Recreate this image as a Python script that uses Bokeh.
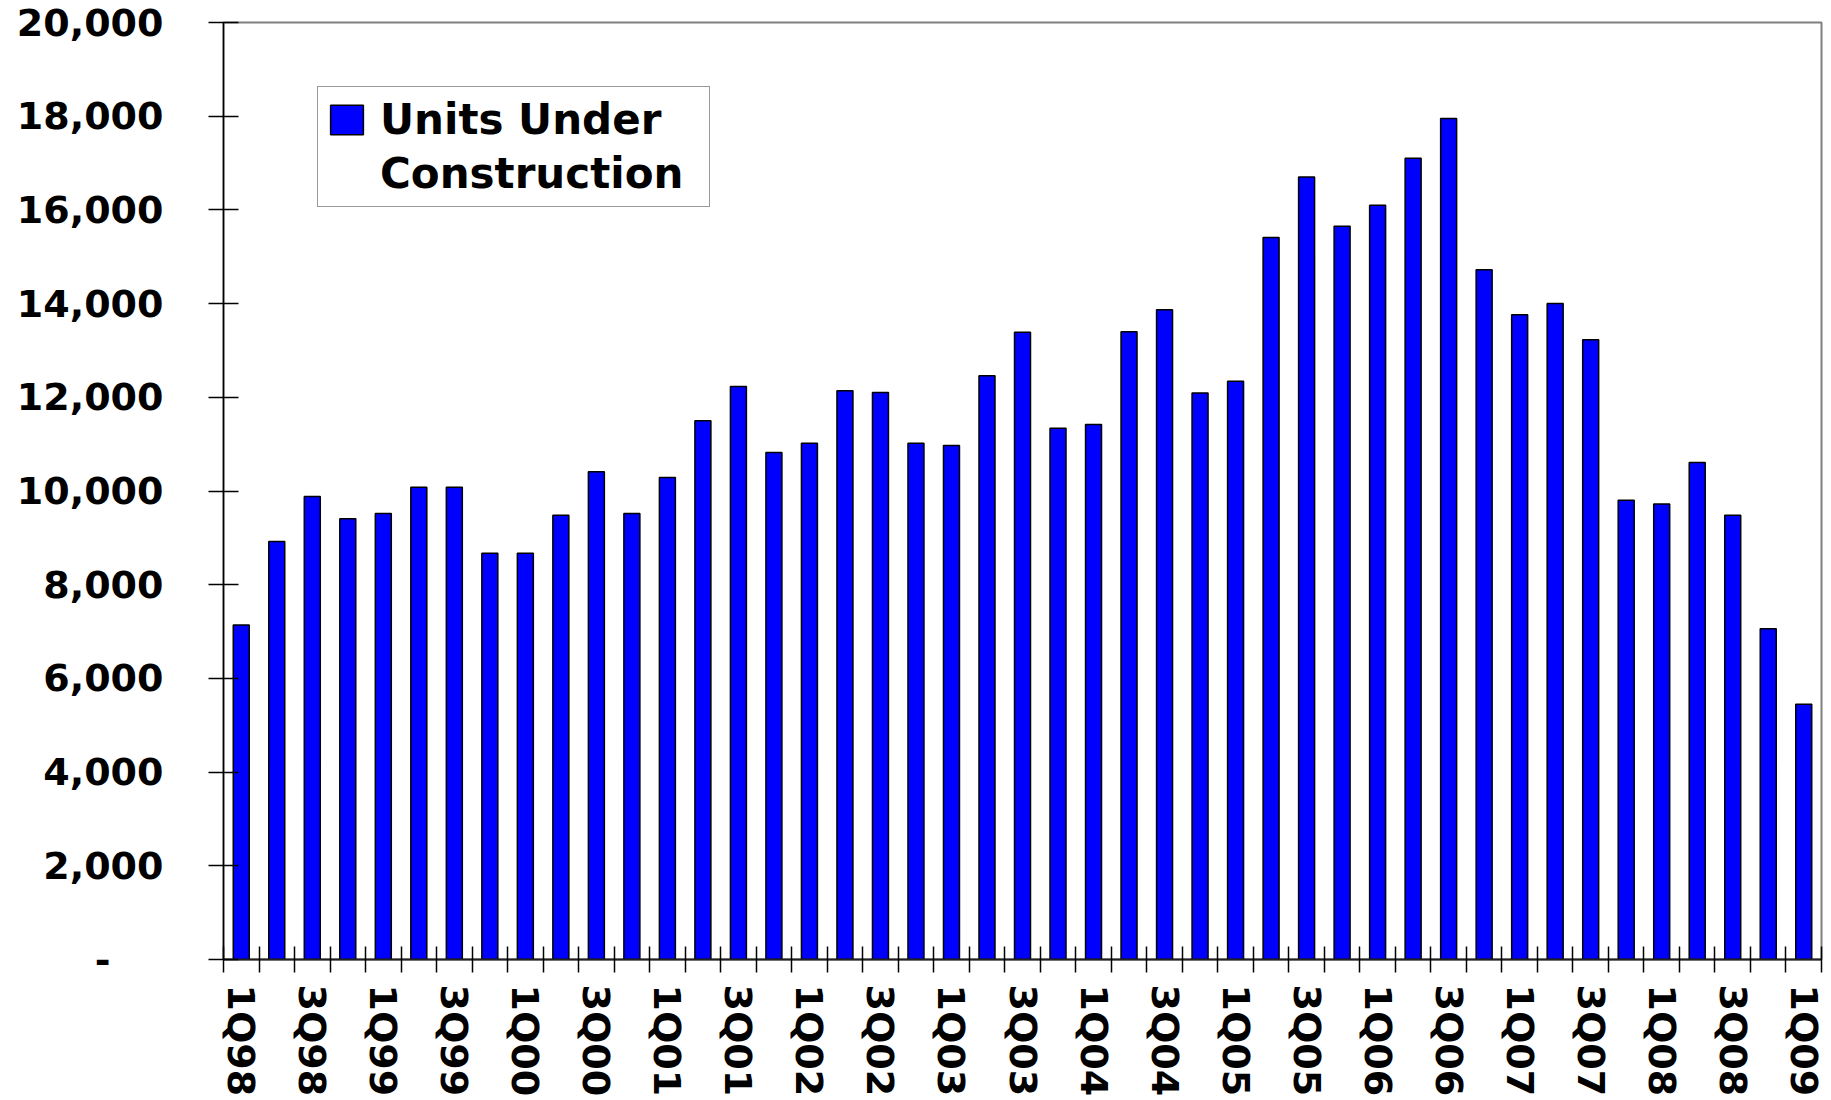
import math
from bokeh.plotting import figure
from bokeh.models import (Range1d, FixedTicker, NumeralTickFormatter, Legend, LegendItem,
                          ColumnDataSource)
from bokeh.embed import file_html
from bokeh.resources import INLINE

quarters = ["1Q98", "2Q98", "3Q98", "4Q98",
            "1Q99", "2Q99", "3Q99", "4Q99",
            "1Q00", "2Q00", "3Q00", "4Q00",
            "1Q01", "2Q01", "3Q01", "4Q01",
            "1Q02", "2Q02", "3Q02", "4Q02",
            "1Q03", "2Q03", "3Q03", "4Q03",
            "1Q04", "2Q04", "3Q04", "4Q04",
            "1Q05", "2Q05", "3Q05", "4Q05",
            "1Q06", "2Q06", "3Q06", "4Q06",
            "1Q07", "2Q07", "3Q07", "4Q07",
            "1Q08", "2Q08", "3Q08", "4Q08",
            "1Q09"]
units = [7140, 8920, 9880, 9410,
         9520, 10080, 10080, 8670,
         8670, 9480, 10410, 9520,
         10290, 11500, 12230, 10820,
         11020, 12140, 12100, 11020,
         10970, 12460, 13390, 11340,
         11420, 13400, 13870, 12090,
         12340, 15410, 16700, 15650,
         16100, 17100, 17950, 14720,
         13760, 14000, 13230, 9800,
         9720, 10610, 9480, 7060,
         5450]
y_ticks = [0, 2000, 4000, 6000, 8000, 10000, 12000, 14000, 16000, 18000, 20000]
series_name = ["Units Under", "Construction"]

FONT = "DejaVu Sans"
n = len(quarters)
centers = list(range(n))
bounds = [i - 0.5 for i in range(n + 1)]

p = figure(width=1826, height=1100, output_backend="svg", toolbar_location=None,
           x_range=Range1d(-0.5, n - 0.5), y_range=Range1d(0, 20000),
           min_border_left=223, min_border_right=5, min_border_top=22,
           min_border_bottom=141)
p.background_fill_color = "white"
p.border_fill_color = "white"
p.outline_line_color = "#808080"
p.outline_line_width = 2
p.grid.visible = False

src = ColumnDataSource(dict(x=centers, top=units))
bars = p.vbar(x="x", top="top", width=0.45, source=src,
              fill_color="#0000FF", line_color="black", line_width=1.5)
dummy = p.vbar(x=[], top=[], width=0.45, fill_alpha=0, line_alpha=0)

# y axis
ya = p.yaxis[0]
ya.ticker = FixedTicker(ticks=y_ticks)
ya.formatter = NumeralTickFormatter(format="0,0")
ya.major_label_overrides = {0: "-\u2007\u2007"}
ya.major_tick_in = 15
ya.major_tick_out = 15
ya.minor_tick_line_color = None
ya.major_tick_line_color = "black"
ya.major_tick_line_width = 1.5
ya.axis_line_color = "black"
ya.axis_line_width = 1.5
ya.major_label_standoff = 45
ya.major_label_text_font = FONT
ya.major_label_text_font_style = "bold"
ya.major_label_text_font_size = "38px"
ya.major_label_text_color = "black"

# x axis: labels at every other quarter, tick marks at category boundaries
labeled_idx = centers[::2]
xa = p.xaxis[0]
xa.ticker = FixedTicker(ticks=labeled_idx, minor_ticks=bounds)
xa.major_label_overrides = {i: quarters[i] for i in labeled_idx}
xa.major_tick_line_color = None
xa.major_tick_in = 0
xa.major_tick_out = 0
xa.minor_tick_in = 13
xa.minor_tick_out = 13
xa.minor_tick_line_color = "black"
xa.minor_tick_line_width = 1.5
xa.axis_line_color = "#202020"
xa.axis_line_width = 2
xa.major_label_orientation = -math.pi / 2
xa.major_label_standoff = 12
xa.major_label_text_font = FONT
xa.major_label_text_font_style = "bold"
xa.major_label_text_font_size = "38px"
xa.major_label_text_color = "black"

legend = Legend(items=[LegendItem(label=series_name[0], renderers=[bars]),
                       LegendItem(label=series_name[1], renderers=[dummy])],
                location=(94, 752), orientation="vertical",
                padding=8, spacing=5, margin=0,
                glyph_width=41, glyph_height=37, label_standoff=13,
                label_width=321,
                label_text_font=FONT, label_text_font_style="bold",
                label_text_font_size="42px", label_text_color="black",
                border_line_color="#333333", border_line_width=1,
                background_fill_color="white", background_fill_alpha=1)
p.add_layout(legend)

open("out.html", "w").write(file_html(p, INLINE))
